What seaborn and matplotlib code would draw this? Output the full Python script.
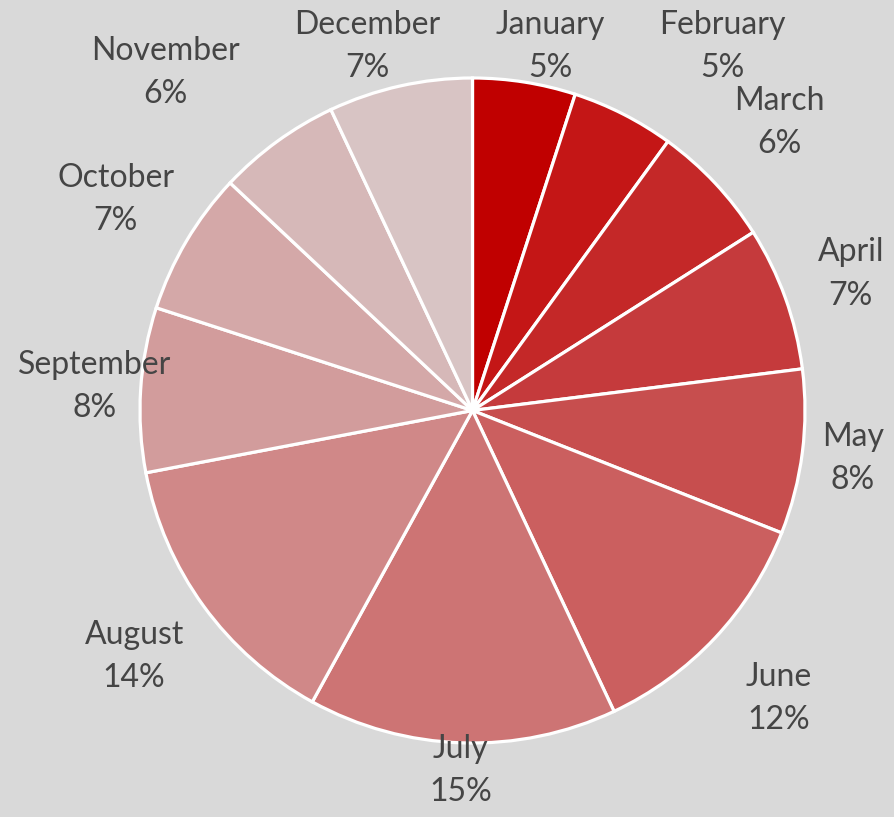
import matplotlib
matplotlib.use('Agg')
import matplotlib.pyplot as plt
import seaborn as sns
import numpy as np

# Monthly share (%)
months = ['January', 'February', 'March', 'April', 'May', 'June',
          'July', 'August', 'September', 'October', 'November', 'December']
shares = [5, 5, 6, 7, 8, 12, 15, 14, 8, 7, 6, 7]

sns.set_theme(style='white')
plt.rcParams['font.family'] = ['Lato', 'DejaVu Sans']

bg = '#D9D9D9'
colors = sns.color_palette(['#C00000', '#C41616', '#C42828', '#C53A3C',
                            '#C74E4E', '#CB5F5F', '#CD7474', '#D08888',
                            '#D29C9C', '#D4A8A8', '#D6B8B8', '#D8C4C4'])

W, H = 894, 817
fig = plt.figure(figsize=(W / 100, H / 100), dpi=100, facecolor=bg)
# square axes box holding the pie
cx, cy, r = 472.5, 410.5, 332.5
ax = fig.add_axes([(cx - r) / W, (H - cy - r) / H, 2 * r / W, 2 * r / H])
ax.set_facecolor(bg)

wedges, _ = ax.pie(shares, colors=colors, startangle=90, counterclock=False,
                   wedgeprops=dict(edgecolor='white', linewidth=2.3))
ax.set_xlim(-1, 1)
ax.set_ylim(-1, 1)
ax.axis('off')

# labels outside the pie, a bit further out on the diagonals
texts = []
for w, m, s in zip(wedges, months, shares):
    ang = np.deg2rad((w.theta1 + w.theta2) / 2)
    dist = 1.12 + 0.145 * abs(np.sin(2 * ang))
    t = ax.text(dist * np.cos(ang), dist * np.sin(ang), f'{m}\n{s}%',
                ha='center', va='center', fontsize=23, color='#454545',
                linespacing=1.55, clip_on=False)
    texts.append(t)

fig.canvas.draw()
renderer = fig.canvas.get_renderer()


def shift(t, dx, dy):
    x, y = t.get_position()
    t.set_position((x + dx / r, y + dy / r))


# keep labels inside the canvas
margin = 10
for t in texts:
    bb = t.get_window_extent(renderer)
    dx = dy = 0.0
    if bb.y1 > H - margin:
        dy = (H - margin) - bb.y1
    if bb.y0 < margin:
        dy = margin - bb.y0
    if bb.x1 > W - margin:
        dx = (W - margin) - bb.x1
    if bb.x0 < margin:
        dx = margin - bb.x0
    shift(t, dx, dy)

# spread labels sitting side by side
gap = 55
for _ in range(60):
    moved = False
    boxes = [t.get_window_extent(renderer) for t in texts]
    for i in range(len(texts)):
        for j in range(len(texts)):
            a, b = boxes[i], boxes[j]
            if i == j or a.x0 > b.x0:
                continue
            if min(a.y1, b.y1) - max(a.y0, b.y0) <= 0:
                continue
            need = a.x1 + gap - b.x0
            if need > 0.5:
                shift(texts[i], -need / 2, 0)
                shift(texts[j], need / 2, 0)
                moved = True
                boxes = [t.get_window_extent(renderer) for t in texts]
    if not moved:
        break

fig.savefig('out.png', dpi=100, facecolor=bg)
